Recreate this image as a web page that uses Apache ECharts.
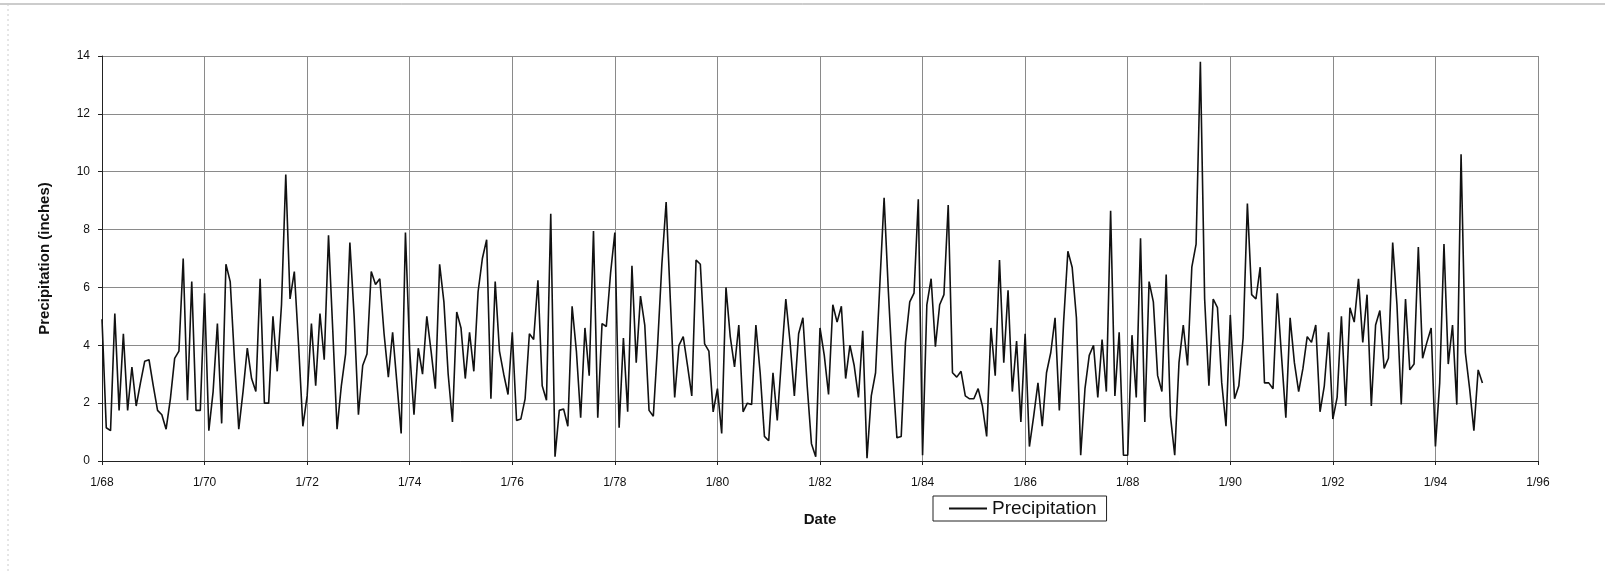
<!DOCTYPE html>
<html>
<head>
<meta charset="utf-8">
<script src="https://cdn.jsdelivr.net/npm/echarts@6/dist/echarts.min.js"></script>
<style>
html,body{margin:0;padding:0;background:#fff;}
#chart{width:1605px;height:572px;}
</style>
</head>
<body>
<div id="chart"></div>
<script>
// Monthly precipitation (inches), Jan 1968 onward
const precipitation = [
4.9,1.15,1.05,5.1,1.75,4.4,1.75,3.25,1.9,2.7,3.45,3.5,
2.6,1.75,1.6,1.1,2.15,3.55,3.8,7.0,2.1,6.2,1.75,1.75,
5.8,1.05,2.4,4.75,1.3,6.8,6.2,3.5,1.1,2.4,3.9,2.85,
2.4,6.3,2.0,2.0,5.0,3.1,5.4,9.9,5.6,6.55,4.0,1.2,
2.25,4.75,2.6,5.1,3.5,7.8,4.5,1.1,2.6,3.7,7.55,5.0,
1.6,3.3,3.7,6.55,6.1,6.3,4.4,2.9,4.45,2.7,0.95,7.9,
3.8,1.6,3.9,3.0,5.0,3.8,2.5,6.8,5.5,3.0,1.35,5.15,
4.6,2.85,4.45,3.1,5.85,7.0,7.65,2.15,6.2,3.8,3.0,2.3,
4.45,1.4,1.45,2.15,4.4,4.2,6.25,2.6,2.1,8.55,0.15,1.75,
1.8,1.2,5.35,3.8,1.5,4.6,2.95,7.95,1.5,4.75,4.65,6.5,
7.9,1.15,4.25,1.7,6.75,3.4,5.7,4.7,1.75,1.55,4.0,6.8,
8.95,5.5,2.2,4.0,4.3,3.3,2.25,6.95,6.8,4.05,3.8,1.7,
2.5,0.95,6.0,4.3,3.25,4.7,1.7,2.0,1.95,4.7,3.05,0.85,
0.7,3.05,1.4,3.55,5.6,4.1,2.25,4.4,4.95,2.6,0.6,0.15,
4.6,3.65,2.3,5.4,4.8,5.35,2.85,4.0,3.3,2.2,4.5,0.1,
2.25,3.05,6.1,9.1,5.85,3.05,0.8,0.85,4.1,5.5,5.8,9.05,
0.2,5.4,6.3,3.95,5.4,5.75,8.85,3.05,2.9,3.1,2.25,2.15,
2.15,2.5,1.9,0.85,4.6,2.95,6.95,3.4,5.9,2.4,4.15,1.35,
4.4,0.5,1.55,2.7,1.2,3.05,3.75,4.95,1.75,4.8,7.25,6.7,
4.95,0.2,2.5,3.65,4.0,2.2,4.2,2.4,8.65,2.25,4.45,0.2,
0.2,4.35,2.2,7.7,1.35,6.2,5.5,2.95,2.4,6.45,1.55,0.2,
3.4,4.7,3.3,6.7,7.5,13.8,5.6,2.6,5.6,5.3,2.7,1.2,
5.05,2.15,2.6,4.25,8.9,5.75,5.6,6.7,2.7,2.7,2.5,5.8,
3.6,1.5,4.95,3.4,2.4,3.2,4.3,4.1,4.7,1.7,2.6,4.45,
1.45,2.2,5.0,1.9,5.3,4.8,6.3,4.1,5.75,1.9,4.7,5.2,
3.2,3.55,7.55,5.4,1.95,5.6,3.15,3.35,7.4,3.55,4.1,4.6,
0.5,2.7,7.5,3.35,4.7,1.95,10.6,3.75,2.5,1.05,3.15,2.7
];
const xTickLabels = ['1/68','1/70','1/72','1/74','1/76','1/78','1/80','1/82','1/84','1/86','1/88','1/90','1/92','1/94','1/96'];
const yTicks = [0,2,4,6,8,10,12,14];
const seriesName = 'Precipitation';
const xTitle = 'Date';
const yTitle = 'Precipitation (inches)';

const monthsPerTick = 24;
const points = precipitation.map((v, i) => [i, v]);

const chart = echarts.init(document.getElementById('chart'), null, {renderer: 'canvas'});
const font = 'Liberation Sans, Arial, sans-serif';
chart.setOption({
  animation: false,
  backgroundColor: '#fff',
  textStyle: {fontFamily: font},
  grid: {left: 102, right: 67, top: 56, bottom: 111, containLabel: false},
  legend: {
    data: [seriesName],
    left: 933, top: 496,
    orient: 'horizontal',
    borderColor: '#222', borderWidth: 1,
    padding: [3, 10, 3, 16],
    itemWidth: 38, itemHeight: 2, itemGap: 5,
    icon: 'rect',
    itemStyle: {color: '#111'},
    textStyle: {fontSize: 19, color: '#111', fontFamily: font}
  },
  xAxis: {
    type: 'value',
    min: 0,
    max: (xTickLabels.length - 1) * monthsPerTick,
    interval: monthsPerTick,
    name: xTitle,
    nameLocation: 'middle',
    nameGap: 51,
    nameTextStyle: {fontSize: 15, fontWeight: 'bold', color: '#111'},
    axisLine: {show: true, lineStyle: {color: '#222', width: 1}},
    axisTick: {show: true, length: 4, lineStyle: {color: '#222'}},
    axisLabel: {
      fontSize: 12, color: '#111', margin: 16,
      formatter: v => xTickLabels[Math.round(v / monthsPerTick)] || ''
    },
    splitLine: {show: true, lineStyle: {color: '#8a8a8a', width: 1}}
  },
  yAxis: {
    type: 'value',
    min: yTicks[0],
    max: yTicks[yTicks.length - 1],
    interval: yTicks[1] - yTicks[0],
    name: yTitle,
    nameLocation: 'middle',
    nameRotate: 90,
    nameGap: 50,
    nameTextStyle: {fontSize: 15, fontWeight: 'bold', color: '#111'},
    axisLine: {show: true, lineStyle: {color: '#222', width: 1}},
    axisTick: {show: true, length: 4, lineStyle: {color: '#222'}},
    axisLabel: {fontSize: 12, color: '#111', margin: 12},
    splitLine: {show: true, lineStyle: {color: '#8a8a8a', width: 1}}
  },
  graphic: [
    {type: 'line', shape: {x1: 0, y1: 4, x2: 1605, y2: 4}, style: {stroke: '#999', lineWidth: 1}},
    {type: 'line', shape: {x1: 8, y1: 4, x2: 8, y2: 572}, style: {stroke: '#ccc', lineWidth: 1, lineDash: [2, 3]}}
  ],
  series: [{
    name: seriesName,
    type: 'line',
    data: points,
    showSymbol: false,
    symbol: 'none',
    lineStyle: {color: '#111', width: 1.6},
    itemStyle: {color: '#111'}
  }]
});
</script>
</body>
</html>
